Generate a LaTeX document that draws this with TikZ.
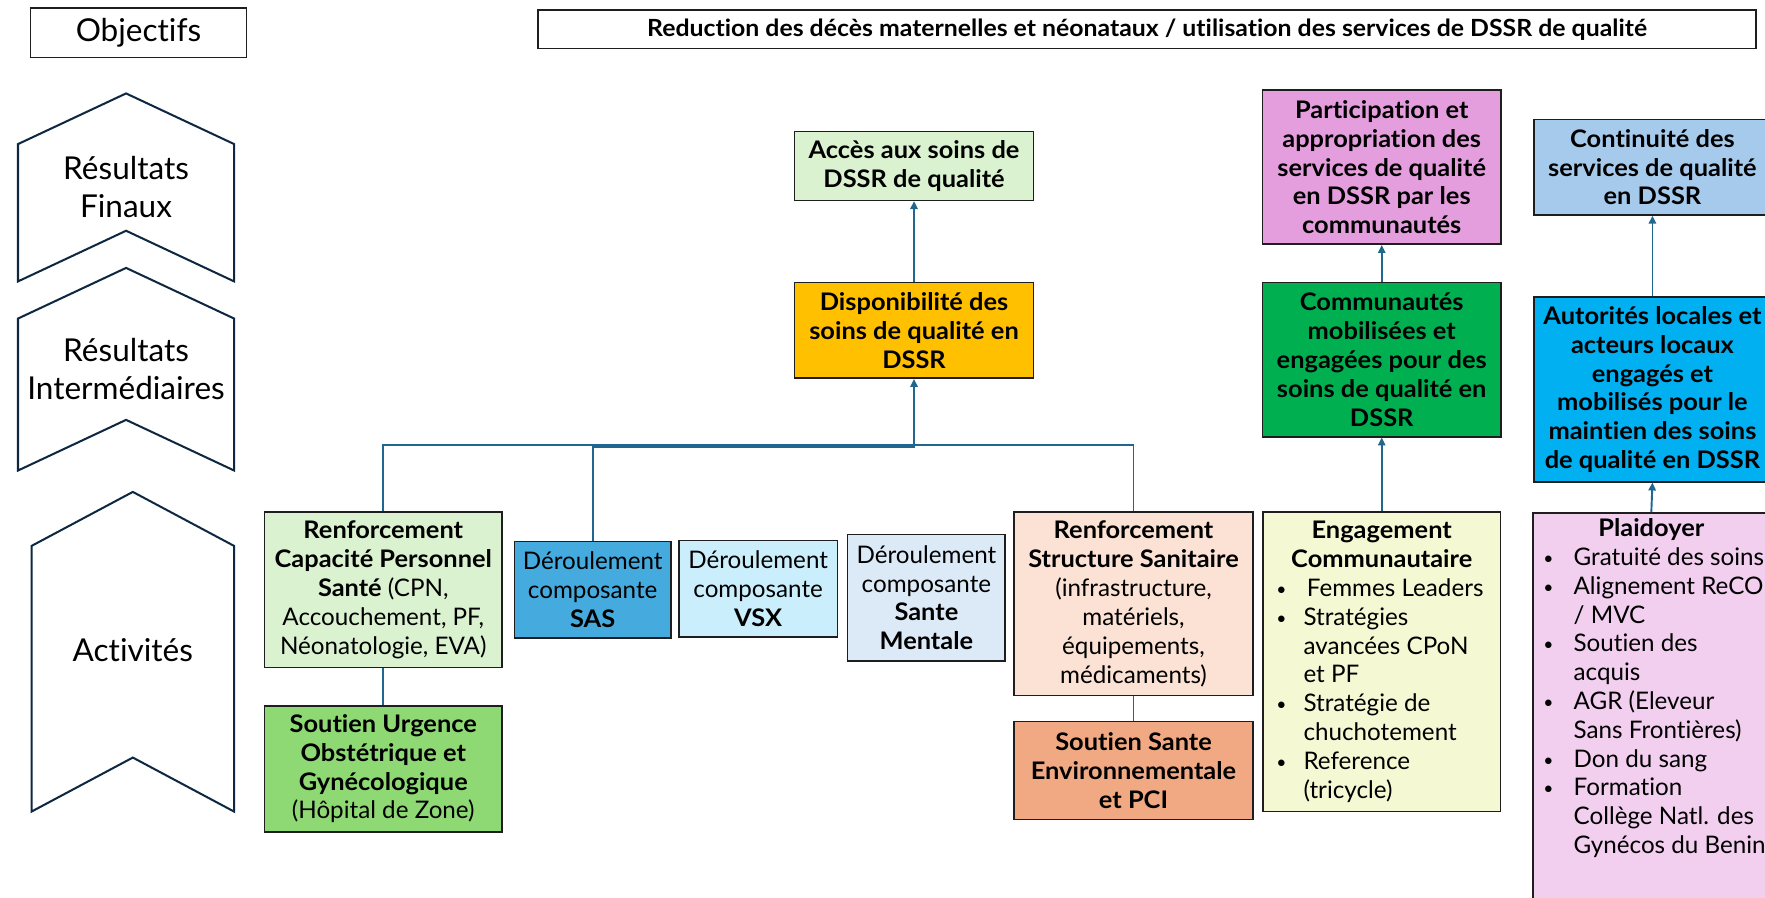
\documentclass[tikz,border=0pt]{standalone}
\usepackage{fontspec}
\setmainfont{Lato}[Ligatures=NoCommon, BoldFeatures={FakeStretch=1.05}]
\usetikzlibrary{arrows.meta}
\definecolor{bordercol}{HTML}{1E1E1E}
\definecolor{chevcol}{HTML}{0E2841}
\definecolor{conncol}{HTML}{21668F}
\definecolor{cAcces}{HTML}{DAF2D0}
\definecolor{cDispo}{HTML}{FFC000}
\definecolor{cPart}{HTML}{E59EDD}
\definecolor{cComm}{HTML}{00B050}
\definecolor{cCont}{HTML}{A6CAEC}
\definecolor{cAuto}{HTML}{00B0F0}
\definecolor{cUrg}{HTML}{8ED973}
\definecolor{cSAS}{HTML}{45ABDF}
\definecolor{cVSX}{HTML}{CAEEFB}
\definecolor{cSM}{HTML}{DCEAF7}
\definecolor{cRstr}{HTML}{FBE2D5}
\definecolor{cEnv}{HTML}{F1A983}
\definecolor{cEng}{HTML}{F5F9D3}
\definecolor{cPlai}{HTML}{F2CEEF}
\newcommand\bxf{\fontsize{21.5}{25.6}\selectfont}
\newcommand\lblf{\fontsize{28}{34}\selectfont}
\newlength\bpre \newlength\bgap \newlength\bind
\newcommand\bl[1]{\par\noindent\hspace*{\bpre}\makebox[\bgap][l]{\raisebox{0.08ex}{\scalebox{0.72}{\textbullet}}}\mbox{#1}}
\newcommand\cl[1]{\par\noindent\hspace*{\bind}\mbox{#1}}
\begin{document}
\begin{tikzpicture}[x=1pt,y=-1pt,
  box/.style={draw=bordercol, line width=1.4pt, inner sep=0pt, align=center, font=\bxf, text=black},
  conn/.style={draw=conncol, line width=1.7pt},
  arr/.style={conn, -{Triangle[length=7pt,width=6.5pt]}},
  chev/.style={draw=chevcol, line width=1.8pt, fill=white, line join=miter}]
\useasboundingbox (0,0) rectangle (1568,797);
\fill[white] (0,0) rectangle (1568,797);

% left column
\node[box, minimum width=192pt, minimum height=44pt, font=\lblf] (obj) at (123,29) {Objectifs};
\draw[chev] (16,128) -- (112,83) -- (208,128) -- (208,250) -- (112,205) -- (16,250) -- cycle;
\draw[chev] (16,283) -- (112,238) -- (208,283) -- (208,418) -- (112,373) -- (16,418) -- cycle;
\draw[chev] (28,485) -- (118,437) -- (208,485) -- (208,721) -- (118,673) -- (28,721) -- cycle;
\node[font=\lblf, align=center] (lfin) at (112,166) {Résultats\\Finaux};
\node[font=\lblf, align=center] (lint) at (112,328) {Résultats\\Intermédiaires};
\node[font=\lblf] (lact) at (118,578) {Activités};

% goal
\node[box, minimum width=1082pt, minimum height=34pt, font=\fontsize{21}{24}\selectfont\bfseries] (goal) at (1019,26)
  {Reduction des décès maternelles et néonataux / utilisation des services de DSSR de qualité};

% results
\node[box, fill=cAcces, minimum width=212pt, minimum height=61pt, font=\bxf\bfseries] (acces) at (812,147.5)
  {Accès aux soins de\\DSSR de qualité};
\node[box, fill=cDispo, minimum width=212pt, minimum height=85pt, font=\bxf\bfseries] (dispo) at (812,293.5)
  {Disponibilité des\\soins de qualité en\\DSSR};
\node[box, fill=cPart, minimum width=212pt, minimum height=137pt, font=\bxf\bfseries] (part) at (1227.5,148.5)
  {Participation et\\appropriation des\\services de qualité\\en DSSR par les\\communautés};
\node[box, fill=cComm, minimum width=212pt, minimum height=137pt, font=\bxf\bfseries] (comm) at (1227.5,319.5)
  {Communautés\\mobilisées et\\engagées pour des\\soins de qualité en\\DSSR};
\node[box, fill=cCont, minimum width=210pt, minimum height=85pt, font=\bxf\bfseries] (cont) at (1468,148.5)
  {Continuité des\\services de qualité\\en DSSR};
\node[box, fill=cAuto, minimum width=210pt, minimum height=164pt, font=\bxf\bfseries] (auto) at (1468,346)
  {Autorités locales et\\acteurs locaux\\engagés et\\mobilisés pour le\\maintien des soins\\de qualité en DSSR};

% activities
\node[box, fill=cAcces, minimum width=211pt, minimum height=138pt] (rcap) at (340.5,524)
  {\textbf{Renforcement}\\\textbf{Capacité Personnel}\\\textbf{Santé} (CPN,\\Accouchement, PF,\\Néonatologie, EVA)};
\node[box, fill=cUrg, minimum width=211pt, minimum height=112pt] (surg) at (340.5,683)
  {\textbf{Soutien Urgence}\\\textbf{Obstétrique et}\\\textbf{Gynécologique}\\(Hôpital de Zone)};
\node[box, fill=cSAS, minimum width=139pt, minimum height=86pt] (sas) at (526.5,524)
  {Déroulement\\composante\\\textbf{SAS}};
\node[box, fill=cVSX, minimum width=141pt, minimum height=86pt] (vsx) at (673.5,523)
  {Déroulement\\composante\\\textbf{VSX}};
\node[box, fill=cSM, minimum width=140pt, minimum height=112pt] (smen) at (823,531)
  {Déroulement\\composante\\\textbf{Sante}\\\textbf{Mentale}};
\node[box, fill=cRstr, minimum width=212pt, minimum height=163pt] (rstr) at (1007,536.5)
  {\textbf{Renforcement}\\\textbf{Structure Sanitaire}\\(infrastructure,\\matériels,\\équipements,\\médicaments)};
\node[box, fill=cEnv, minimum width=212pt, minimum height=87pt, font=\bxf\bfseries] (senv) at (1007,684.5)
  {Soutien Sante\\Environnementale\\et PCI};
\node[box, fill=cEng, text width=211pt, minimum height=266pt, align=flush left] (eng) at (1227.5,588)
  {\setlength\parskip{0pt}\setlength\parindent{0pt}%
   \setlength\bpre{12pt}\setlength\bgap{24pt}\setlength\bind{36pt}%
   {\centering\textbf{Engagement}\\\textbf{Communautaire}\par}%
   \bl{\hspace{3pt}Femmes Leaders}
   \bl{Stratégies}\cl{avancées CPoN}\cl{et PF}
   \bl{Stratégie de}\cl{chuchotement}
   \bl{Reference}\cl{(tricycle)}\par};
\node[box, fill=cPlai, text width=210pt, anchor=north, inner ysep=5pt, align=flush left] (plai) at (1467,455)
  {\setlength\parskip{0pt}\setlength\parindent{0pt}%
   \setlength\bpre{9pt}\setlength\bgap{27pt}\setlength\bind{36pt}%
   {\centering\textbf{Plaidoyer}\par}%
   \bl{Gratuité des soins}
   \bl{Alignement ReCO}\cl{/ MVC}
   \bl{Soutien des}\cl{acquis}
   \bl{AGR (Eleveur}\cl{Sans Frontières)}
   \bl{Don du sang}
   \bl{Formation}\cl{Collège Natl. des}\cl{Gynécos du Benin\rule[-80pt]{0pt}{0pt}}\par};

% connectors
\coordinate (busa) at (812,395);
\coordinate (busb) at (812,397.5);
\draw[conn] (rcap.north) |- (busa) -| (rstr.north);
\draw[arr] (sas.north) |- (busb) -- (dispo.south);
\draw[arr] (dispo.north) -- (acces.south);
\draw[conn] (rcap.south) -- (surg.north);
\draw[conn] (rstr.south) -- (senv.north);
\draw[arr] (comm.north) -- (part.south);
\draw[arr] (eng.north) -- (comm.south);
\draw[arr] (auto.north) -- (cont.south);
\draw[arr] (plai.north) -- (auto.south);
\end{tikzpicture}
\end{document}
